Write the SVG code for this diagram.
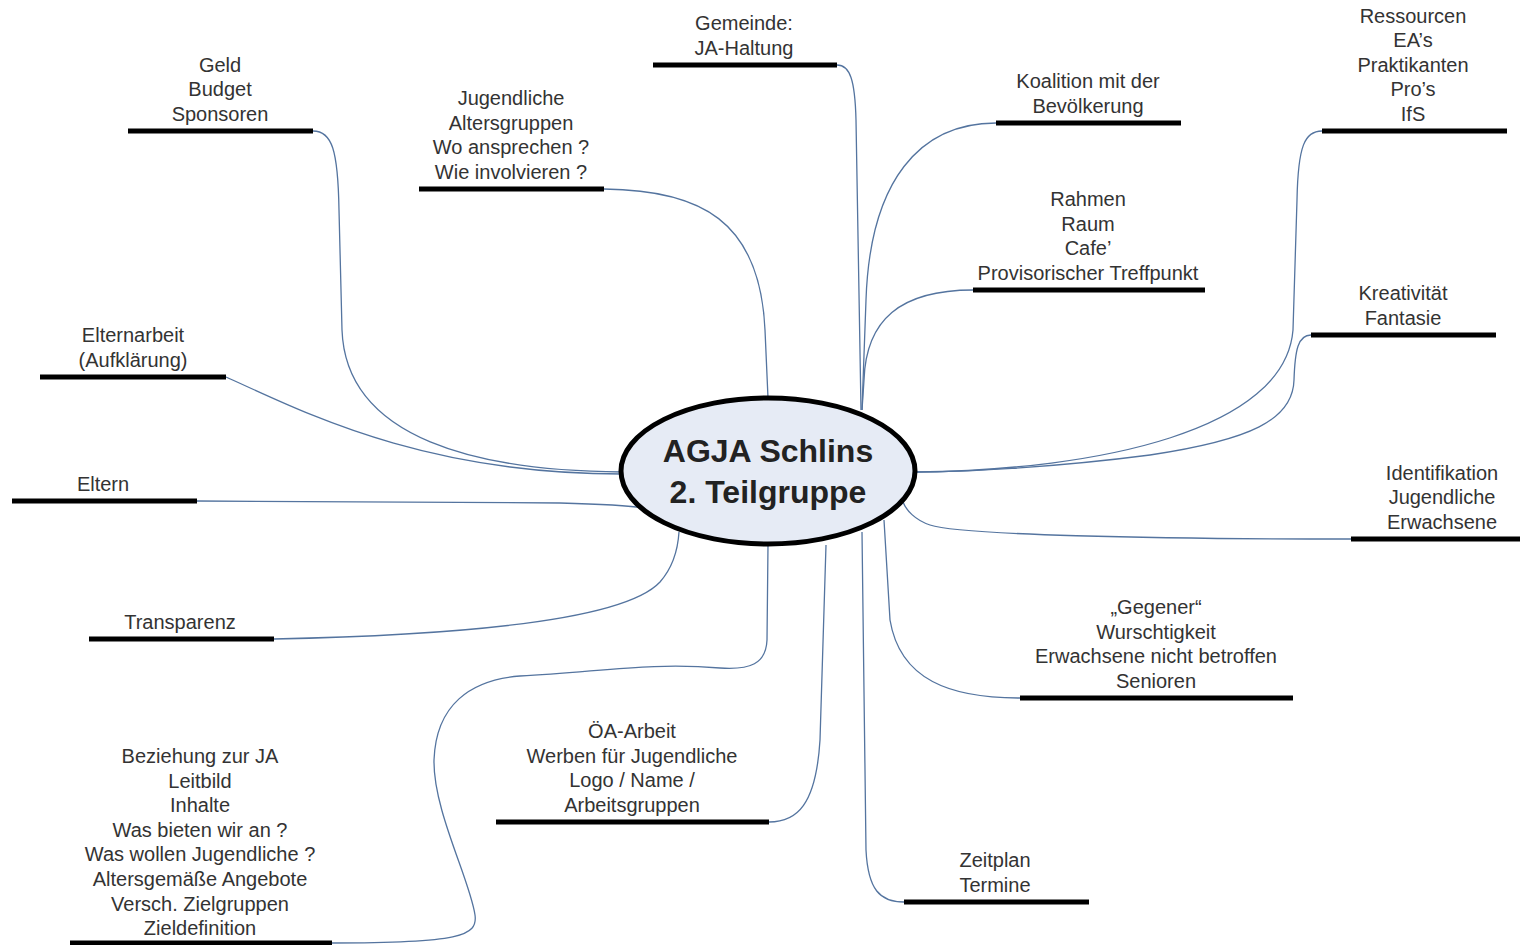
<svg xmlns="http://www.w3.org/2000/svg" width="1520" height="945" viewBox="0 0 1520 945">
<style>
.bg{fill:#ffffff}
.bar{stroke:#000;stroke-width:5;fill:none}
.lbl{font-family:"Liberation Sans",Arial,sans-serif;font-size:20px;fill:#333;text-anchor:middle}
.con{stroke:#54749f;stroke-width:1.3;fill:none}
.core{fill:#e6ebf5;stroke:#000;stroke-width:5}
.title{font-family:"Liberation Sans",Arial,sans-serif;font-size:32px;font-weight:bold;fill:#222;text-anchor:middle}
</style>
<rect class="bg" x="0" y="0" width="1520" height="945"/>
<g id="connectors">
<path class="con" d="M313,131 C332,131 338,150 339,210 L342,330 C346,440 480,471 622,472"/>
<path class="con" d="M226,377 C300,410 420,474 622,474"/>
<path class="con" d="M197,501 L560,503 C600,504 625,505 645,508"/>
<path class="con" d="M274,639 C420,636 620,625 660,582 C674,566 678,548 679,532"/>
<path class="con" d="M768,545 L767,640 C766,664 750,670 720,668 C650,662 600,672 520,676 C470,680 436,705 434,760 C433,810 470,880 475,915 C478,936 460,943 332,943"/>
<path class="con" d="M769,822 C797,822 816,805 820,740 L826,545"/>
<path class="con" d="M904,902 C880,902 868,890 866,850 L862,532"/>
<path class="con" d="M1020,698 C950,698 900,680 890,620 L884,520"/>
<path class="con" d="M1351,539 C1150,539 960,535 930,525 C915,520 906,510 903,502"/>
<path class="con" d="M1322,131 C1305,131 1298,145 1297,200 L1293,330 C1285,430 1100,470 916,472"/>
<path class="con" d="M1311,335 C1298,335 1295,350 1294,380 C1293,420 1250,440 1150,455 C1050,468 960,472 916,472"/>
<path class="con" d="M973,290 C900,290 866,320 864,380 L862,410"/>
<path class="con" d="M996,123 C920,123 870,180 866,300 L862,410"/>
<path class="con" d="M837,65 C850,65 855,80 856,120 L861,410"/>
<path class="con" d="M604,189 C700,190 760,220 765,330 L768,398"/>
</g>
<g id="center">
<ellipse class="core" cx="768" cy="471" rx="147" ry="73"/>
<text class="title" x="768" y="462">AGJA Schlins</text>
<text class="title" x="768" y="503">2. Teilgruppe</text>
</g>
<g id="n-geld"><line class="bar" x1="128" y1="131" x2="313" y2="131"/>
<text class="lbl" x="220" y="71.8"><tspan x="220">Geld</tspan><tspan x="220" dy="24.6">Budget</tspan><tspan x="220" dy="24.6">Sponsoren</tspan></text></g>
<g id="n-jugendliche"><line class="bar" x1="419" y1="189" x2="604" y2="189"/>
<text class="lbl" x="511" y="105.2"><tspan x="511">Jugendliche</tspan><tspan x="511" dy="24.6">Altersgruppen</tspan><tspan x="511" dy="24.6">Wo ansprechen ?</tspan><tspan x="511" dy="24.6">Wie involvieren ?</tspan></text></g>
<g id="n-gemeinde"><line class="bar" x1="653" y1="65" x2="837" y2="65"/>
<text class="lbl" x="744" y="30.4"><tspan x="744">Gemeinde:</tspan><tspan x="744" dy="24.6">JA-Haltung</tspan></text></g>
<g id="n-koalition"><line class="bar" x1="996" y1="123" x2="1181" y2="123"/>
<text class="lbl" x="1088" y="88.4"><tspan x="1088">Koalition mit der</tspan><tspan x="1088" dy="24.6">Bevölkerung</tspan></text></g>
<g id="n-rahmen"><line class="bar" x1="973" y1="290" x2="1205" y2="290"/>
<text class="lbl" x="1088" y="206.2"><tspan x="1088">Rahmen</tspan><tspan x="1088" dy="24.6">Raum</tspan><tspan x="1088" dy="24.6">Cafe’</tspan><tspan x="1088" dy="24.6">Provisorischer Treffpunkt</tspan></text></g>
<g id="n-ressourcen"><line class="bar" x1="1322" y1="131" x2="1507" y2="131"/>
<text class="lbl" x="1413" y="22.6"><tspan x="1413">Ressourcen</tspan><tspan x="1413" dy="24.6">EA’s</tspan><tspan x="1413" dy="24.6">Praktikanten</tspan><tspan x="1413" dy="24.6">Pro’s</tspan><tspan x="1413" dy="24.6">IfS</tspan></text></g>
<g id="n-kreativitaet"><line class="bar" x1="1311" y1="335" x2="1496" y2="335"/>
<text class="lbl" x="1403" y="300.4"><tspan x="1403">Kreativität</tspan><tspan x="1403" dy="24.6">Fantasie</tspan></text></g>
<g id="n-identifikation"><line class="bar" x1="1351" y1="539" x2="1520" y2="539"/>
<text class="lbl" x="1442" y="479.8"><tspan x="1442">Identifikation</tspan><tspan x="1442" dy="24.6">Jugendliche</tspan><tspan x="1442" dy="24.6">Erwachsene</tspan></text></g>
<g id="n-gegener"><line class="bar" x1="1020" y1="698" x2="1293" y2="698"/>
<text class="lbl" x="1156" y="614.2"><tspan x="1156">„Gegener“</tspan><tspan x="1156" dy="24.6">Wurschtigkeit</tspan><tspan x="1156" dy="24.6">Erwachsene nicht betroffen</tspan><tspan x="1156" dy="24.6">Senioren</tspan></text></g>
<g id="n-zeitplan"><line class="bar" x1="904" y1="902" x2="1089" y2="902"/>
<text class="lbl" x="995" y="867.4"><tspan x="995">Zeitplan</tspan><tspan x="995" dy="24.6">Termine</tspan></text></g>
<g id="n-oea"><line class="bar" x1="496" y1="822" x2="769" y2="822"/>
<text class="lbl" x="632" y="738.2"><tspan x="632">ÖA-Arbeit</tspan><tspan x="632" dy="24.6">Werben für Jugendliche</tspan><tspan x="632" dy="24.6">Logo / Name /</tspan><tspan x="632" dy="24.6">Arbeitsgruppen</tspan></text></g>
<g id="n-beziehung"><line class="bar" x1="70" y1="943" x2="332" y2="943"/>
<text class="lbl" x="200" y="763"><tspan x="200">Beziehung zur JA</tspan><tspan x="200" dy="24.6">Leitbild</tspan><tspan x="200" dy="24.6">Inhalte</tspan><tspan x="200" dy="24.6">Was bieten wir an ?</tspan><tspan x="200" dy="24.6">Was wollen Jugendliche ?</tspan><tspan x="200" dy="24.6">Altersgemäße Angebote</tspan><tspan x="200" dy="24.6">Versch. Zielgruppen</tspan><tspan x="200" dy="24.6">Zieldefinition</tspan></text></g>
<g id="n-transparenz"><line class="bar" x1="89" y1="639" x2="274" y2="639"/>
<text class="lbl" x="180" y="629">Transparenz</text></g>
<g id="n-eltern"><line class="bar" x1="12" y1="501" x2="197" y2="501"/>
<text class="lbl" x="103" y="491">Eltern</text></g>
<g id="n-elternarbeit"><line class="bar" x1="40" y1="377" x2="226" y2="377"/>
<text class="lbl" x="133" y="342.4"><tspan x="133">Elternarbeit</tspan><tspan x="133" dy="24.6">(Aufklärung)</tspan></text></g>
</svg>
